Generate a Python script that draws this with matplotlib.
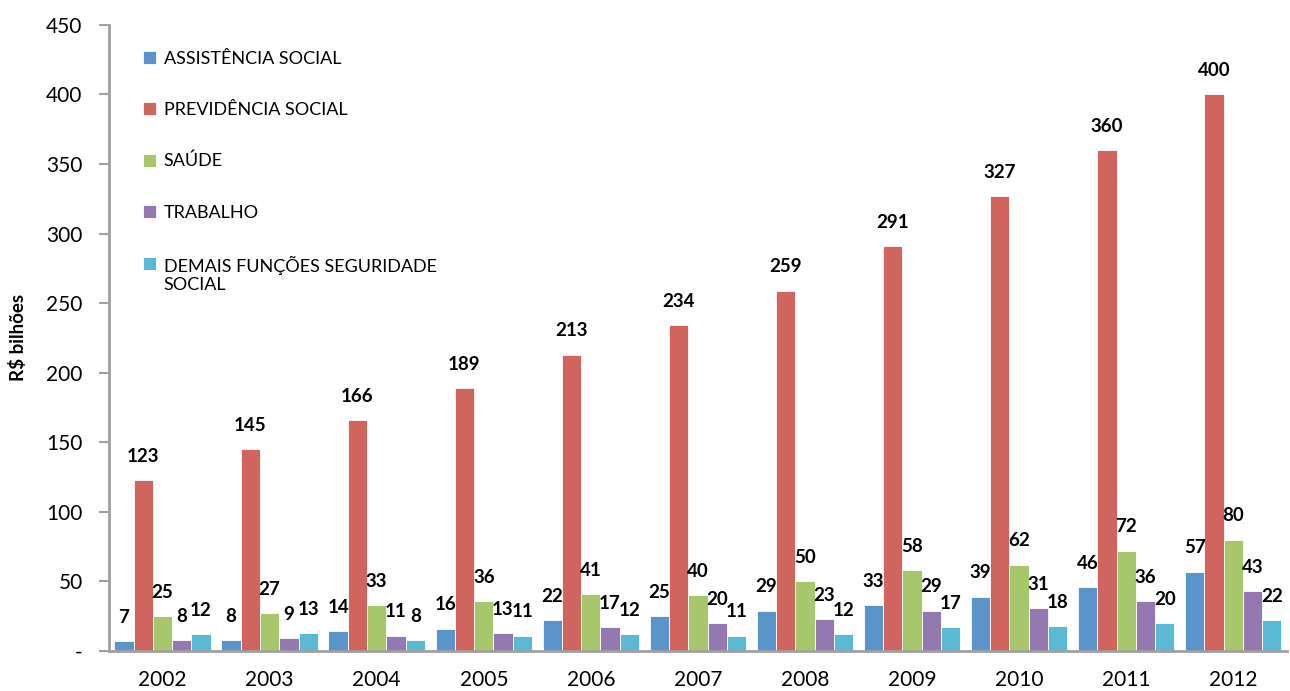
import numpy as np
import matplotlib
matplotlib.use('Agg')
import matplotlib.pyplot as plt
from matplotlib.patches import Rectangle
from matplotlib.legend_handler import HandlerPatch, update_from_first_child

plt.rcParams['font.family'] = ['Lato', 'DejaVu Sans']

# Gastos com seguridade social por função (R$ bilhões)
anos = ['2002', '2003', '2004', '2005', '2006', '2007', '2008', '2009', '2010', '2011', '2012']
assistencia = [7, 8, 14, 16, 22, 25, 29, 33, 39, 46, 57]
previdencia = [123, 145, 166, 189, 213, 234, 259, 291, 327, 360, 400]
saude = [25, 27, 33, 36, 41, 40, 50, 58, 62, 72, 80]
trabalho = [8, 9, 11, 13, 17, 20, 23, 29, 31, 36, 43]
demais = [12, 13, 8, 11, 12, 11, 12, 17, 18, 20, 22]

series = [
    ('ASSISTÊNCIA SOCIAL', assistencia, '#5B93CB'),
    ('PREVIDÊNCIA SOCIAL', previdencia, '#D0645E'),
    ('SAÚDE', saude, '#A8C66B'),
    ('TRABALHO', trabalho, '#9479B1'),
    ('DEMAIS FUNÇÕES SEGURIDADE\nSOCIAL', demais, '#5BBAD3'),
]

fig = plt.figure(figsize=(12.9, 6.91), dpi=100)
ax = fig.add_axes([0.0845, 0.058, 0.913, 0.906])

x = np.arange(len(anos))
width = 0.18
containers = []
for i, (nome, valores, cor) in enumerate(series):
    pos = x + (i - 2) * width
    bc = ax.bar(pos, valores, width, color=cor, edgecolor='white', linewidth=0.6, label=nome)
    containers.append(bc)
    for px, v in zip(pos, valores):
        ax.annotate(str(v), (px, v), xytext=(0, 11), textcoords='offset points',
                    ha='center', va='bottom', fontsize=13.5, fontweight='bold')

ax.set_xlim(-0.5, len(anos) - 0.5)
ax.set_ylim(0, 450)
ax.set_yticks(range(0, 451, 50))
ax.set_yticklabels(['-'] + [str(v) for v in range(50, 451, 50)])
ax.set_xticks(x)
ax.set_xticklabels(anos)
ax.tick_params(axis='x', length=0, pad=14, labelsize=15)
ax.tick_params(axis='y', length=7, width=1.5, color='#A0A0A0', pad=12, labelsize=15)
ax.set_ylabel('R$ bilhões', fontsize=13.5, fontweight='bold', labelpad=14)

for s in ['top', 'right']:
    ax.spines[s].set_visible(False)
for s in ['left', 'bottom']:
    ax.spines[s].set_color('#A0A0A0')
    ax.spines[s].set_linewidth(2)


# the two-line entry gets its square next to the first line
def top_square(legend, orig_handle, xdescent, ydescent, width, height, fontsize):
    return Rectangle((-xdescent, -ydescent + 0.62 * fontsize), width, height)


leg = ax.legend(loc='upper left', bbox_to_anchor=(0.015, 0.985), frameon=False,
                fontsize=13, handlelength=0.75, handleheight=0.75, handletextpad=0.4,
                labelspacing=1.95,
                handler_map={containers[-1]: HandlerPatch(patch_func=top_square,
                                                          update_func=update_from_first_child)})

fig.savefig('out.png', dpi=100)
